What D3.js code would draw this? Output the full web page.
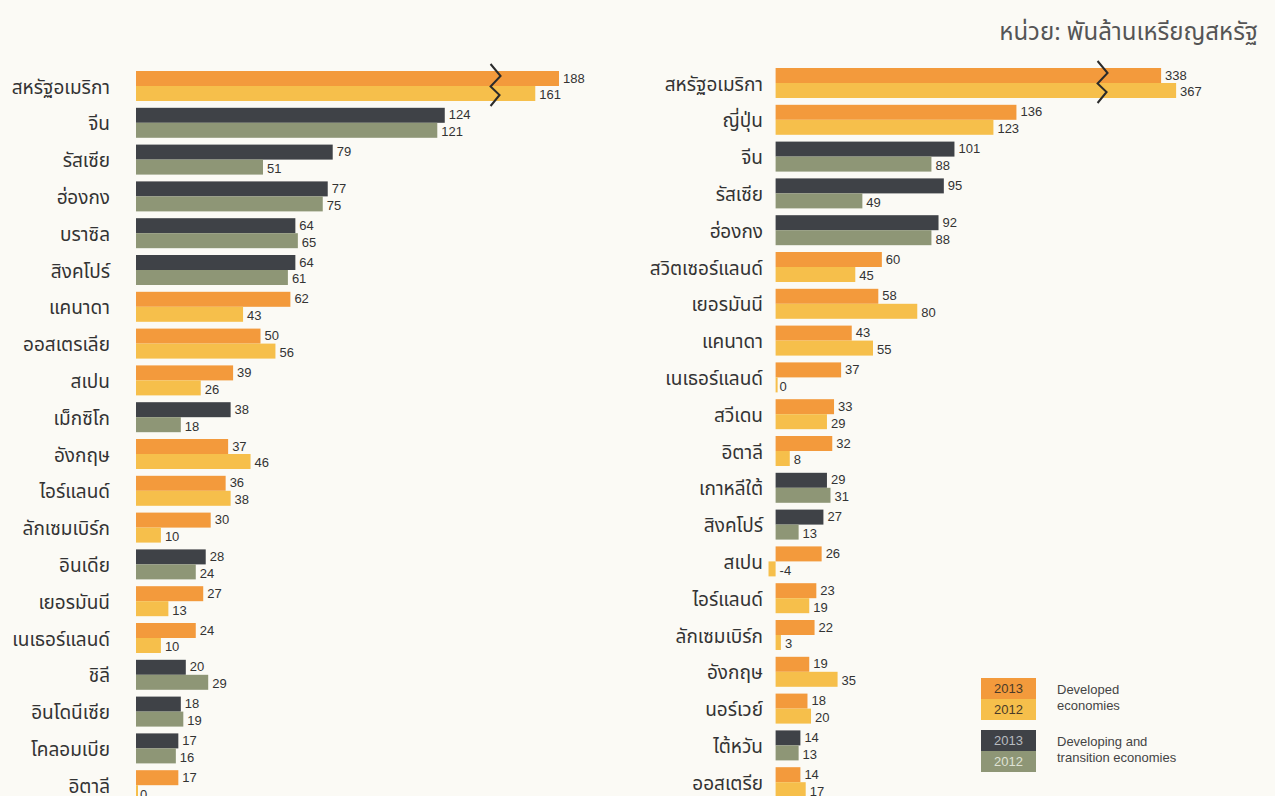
<!DOCTYPE html>
<html>
<head>
<meta charset="utf-8">
<script src="https://cdn.jsdelivr.net/npm/d3@7"></script>
<style>
  body { margin: 0; background: #fbfaf5; }
  svg { display: block; }
</style>
</head>
<body>
<svg></svg>
<script>
// left panel
var leftCountries = ["สหรัฐอเมริกา", "จีน", "รัสเซีย", "ฮ่องกง", "บราซิล", "สิงคโปร์", "แคนาดา", "ออสเตรเลีย", "สเปน", "เม็กซิโก",
    "อังกฤษ", "ไอร์แลนด์", "ลักเซมเบิร์ก", "อินเดีย", "เยอรมันนี", "เนเธอร์แลนด์", "ชิลี", "อินโดนีเซีย", "โคลอมเบีย", "อิตาลี"]
var left2013 = [188, 124, 79, 77, 64, 64, 62, 50, 39, 38, 37, 36, 30, 28, 27, 24, 20, 18, 17, 17]
var left2012 = [161, 121, 51, 75, 65, 61, 43, 56, 26, 18, 46, 38, 10, 24, 13, 10, 29, 19, 16, 0]
// d = developed, t = developing and transition
var leftGroup = ["d", "t", "t", "t", "t", "t", "d", "d", "d", "t", "d", "d", "d", "t", "d", "d", "t", "t", "t", "d"]

// right panel
var rightCountries = ["สหรัฐอเมริกา", "ญี่ปุ่น", "จีน", "รัสเซีย", "ฮ่องกง", "สวิตเซอร์แลนด์", "เยอรมันนี", "แคนาดา", "เนเธอร์แลนด์", "สวีเดน",
    "อิตาลี", "เกาหลีใต้", "สิงคโปร์", "สเปน", "ไอร์แลนด์", "ลักเซมเบิร์ก", "อังกฤษ", "นอร์เวย์", "ไต้หวัน", "ออสเตรีย"]
var right2013 = [338, 136, 101, 95, 92, 60, 58, 43, 37, 33, 32, 29, 27, 26, 23, 22, 19, 18, 14, 14]
var right2012 = [367, 123, 88, 49, 88, 45, 80, 55, 0, 29, 8, 31, 13, -4, 19, 3, 35, 20, 13, 17]
var rightGroup = ["d", "d", "t", "t", "t", "d", "d", "d", "d", "d", "d", "t", "t", "d", "d", "d", "d", "d", "t", "d"]

var unitLabel = "หน่วย: พันล้านเหรียญสหรัฐ"
var years = ["2013", "2012"]
var legendItems = [
    { group: "d", lines: ["Developed", "economies"] },
    { group: "t", lines: ["Developing and", "transition economies"] }
]

var width = 1275
var height = 796
var thaiFont = "'Noto Sans Thai', 'Noto Sans Thai Looped', 'Loma', 'Garuda', 'Noto Sans', sans-serif"
var numFont = "Arial, 'Liberation Sans', sans-serif"

var colors = {
    d: { "2013": "#f39a3c", "2012": "#f6bf4b" },
    t: { "2013": "#3f4247", "2012": "#8e9676" }
}

var svg = d3.select("svg")
    .attr("width", width)
    .attr("height", height)

// unit label top right
svg.append("text")
    .attr("x", 1258)
    .attr("y", 40)
    .attr("text-anchor", "end")
    .style("font-family", thaiFont)
    .style("font-size", "24px")
    .style("fill", "#555")
    .text(unitLabel)

// the US bar is broken, so the scale is piecewise: second segment is squeezed
drawPanel({
    countries: leftCountries, v13: left2013, v12: left2012, group: leftGroup,
    x0: 136, top: 71, labelX: 110,
    x: d3.scaleLinear().domain([0, 160, 188]).range([0, 398.4, 423]),
    breakAt: 144
})

drawPanel({
    countries: rightCountries, v13: right2013, v12: right2012, group: rightGroup,
    x0: 775.6, top: 68, labelX: 763,
    x: d3.scaleLinear().domain([0, 168, 338]).range([0, 297.5, 385.5]),
    breakAt: 223
})

function drawPanel(p) {
    var rows = p.countries.map(function(c, i) {
        return { name: c, v13: p.v13[i], v12: p.v12[i], group: p.group[i] }
    })

    var y = d3.scaleBand()
        .domain(p.countries)
        .range([p.top, p.top + 36.8 * 19.815])
        .paddingInner(0.185)
        .paddingOuter(0)

    var half = y.bandwidth() / 2

    var g = svg.append("g")
        .attr("transform", "translate(" + p.x0 + ",0)")

    var row = g.selectAll("g.row")
        .data(rows)
        .enter().append("g")
        .attr("class", "row")
        .attr("transform", function(d) { return "translate(0," + y(d.name) + ")" })

    // country names
    row.append("text")
        .attr("x", p.labelX - p.x0)
        .attr("y", half + 1)
        .attr("dy", "0.35em")
        .attr("text-anchor", "end")
        .style("font-family", thaiFont)
        .style("font-size", "19px")
        .style("fill", "#333")
        .text(function(d) { return d.name })

    years.forEach(function(yr, k) {
        var key = yr == "2013" ? "v13" : "v12"

        row.append("rect")
            .attr("x", function(d) { return Math.min(p.x(0), p.x(d[key])) })
            .attr("y", k * half)
            .attr("width", function(d) { return Math.max(2, Math.abs(p.x(d[key]) - p.x(0))) })
            .attr("height", half)
            .attr("fill", function(d) { return colors[d.group][yr] })

        row.append("text")
            .attr("x", function(d) { return Math.max(p.x(0), p.x(d[key])) + 4 })
            .attr("y", k * half + (k == 0 ? 11.5 : 13.5))
            .style("font-family", numFont)
            .style("font-size", "13px")
            .style("fill", "#333")
            .text(function(d) { return d[key] })
    })

    // zigzag break mark on the first (largest) row
    var bx = p.x(p.breakAt)
    var zig = d3.line()([[bx - 4, -7], [bx + 6, 5], [bx - 4, 15.5], [bx + 5, 24], [bx - 4, 35]])
    g.append("path")
        .attr("transform", "translate(0," + y(p.countries[0]) + ")")
        .attr("d", zig)
        .attr("fill", "none")
        .attr("stroke", "#2b2b2b")
        .attr("stroke-width", 2)
}

// legend
var legend = svg.append("g")
    .attr("transform", "translate(981,678)")

var item = legend.selectAll("g")
    .data(legendItems)
    .enter().append("g")
    .attr("transform", function(d, i) { return "translate(0," + (i * 52) + ")" })

years.forEach(function(yr, k) {
    item.append("rect")
        .attr("x", 0)
        .attr("y", k * 21)
        .attr("width", 55)
        .attr("height", 21)
        .attr("fill", function(d) { return colors[d.group][yr] })

    item.append("text")
        .attr("x", 27.5)
        .attr("y", k * 21 + 15)
        .attr("text-anchor", "middle")
        .style("font-family", numFont)
        .style("font-size", "13px")
        .style("fill", function(d) { return d.group == "d" ? "#4a3a28" : (k == 0 ? "#b8bcc0" : "#dfe2d4") })
        .text(yr)
})

item.selectAll("text.lab")
    .data(function(d) { return d.lines })
    .enter().append("text")
    .attr("class", "lab")
    .attr("x", 76)
    .attr("y", function(d, i) { return 16 + i * 16 })
    .style("font-family", numFont)
    .style("font-size", "13px")
    .style("fill", "#444")
    .text(function(d) { return d })
</script>
</body>
</html>
